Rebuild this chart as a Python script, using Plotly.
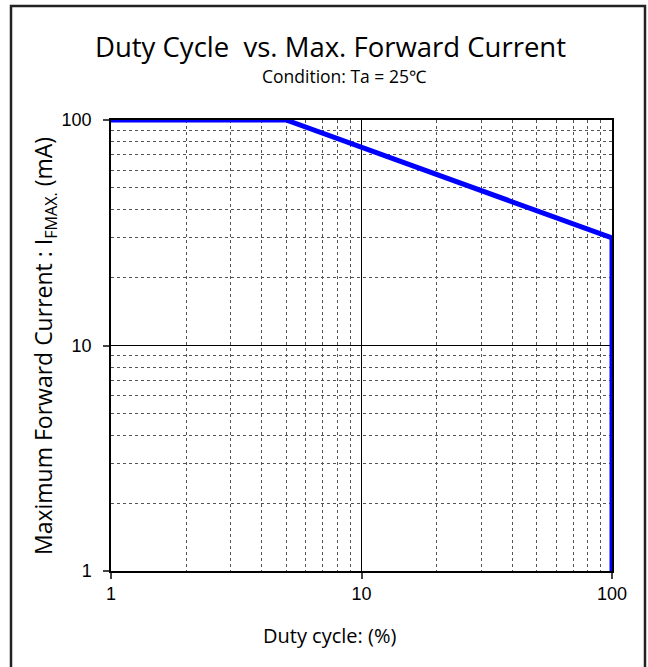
import plotly.graph_objects as go

# Data
duty_cycle = [1, 5, 100, 100]
max_current = [100, 100, 30, 1]
x_ticks = [1, 10, 100]
y_ticks = [1, 10, 100]
minor_vals = [2, 3, 4, 5, 6, 7, 8, 9, 20, 30, 40, 50, 60, 70, 80, 90]

# page geometry (page pixels)
W, H = 648, 667
L, R, T, B = 111, 36, 120, 96
pw = W - L - R
ph = H - T - B


def px_x(px):
    return (px - L) / pw


def px_y(py):
    return (H - B - py) / ph


fig = go.Figure()
fig.add_trace(go.Scatter(
    x=duty_cycle, y=max_current, mode="lines",
    line=dict(color="#0000FF", width=5),
    hoverinfo="skip", showlegend=False,
))

axis_common = dict(
    type="log",
    showline=True, linecolor="black", linewidth=1.5, mirror=True,
    ticks="outside", ticklen=6, tickcolor="#444", tickwidth=1.5,
    showgrid=True, gridcolor="black", gridwidth=1,
    zeroline=False,
    tickfont=dict(family="Liberation Sans, Arial", size=18, color="black"),
    minor=dict(tickmode="array", tickvals=minor_vals, showgrid=True,
               gridcolor="#555555", griddash="dot", gridwidth=1, ticks=""),
)

fig.update_xaxes(range=[0, 2], tickmode="array", tickvals=x_ticks,
                 ticktext=[str(v) for v in x_ticks], **axis_common)
fig.update_yaxes(range=[0, 2], tickmode="array", tickvals=y_ticks,
                 ticktext=[str(v) for v in y_ticks], ticklabelstandoff=8,
                 **axis_common)

title_font = "Open Sans, Noto Sans, sans-serif"
fig.update_layout(
    width=W, height=H,
    margin=dict(l=L, r=R, t=T, b=B),
    paper_bgcolor="white", plot_bgcolor="white",
    hovermode=False,
    annotations=[
        dict(text="Duty Cycle  vs. Max. Forward Current", xref="paper", yref="paper",
             x=px_x(330), y=px_y(46), xanchor="center", yanchor="middle",
             showarrow=False, font=dict(family=title_font, size=27.5, color="black")),
        dict(text="Condition: Ta = 25℃", xref="paper", yref="paper",
             x=px_x(344), y=px_y(76), xanchor="center", yanchor="middle",
             showarrow=False, font=dict(family=title_font, size=17.5, color="black")),
        dict(text="Duty cycle: (%)", xref="paper", yref="paper",
             x=px_x(329), y=px_y(635), xanchor="center", yanchor="middle",
             showarrow=False, font=dict(family=title_font, size=20, color="black")),
        dict(text="Maximum Forward Current : I<sub>FMAX.</sub> (mA)", xref="paper", yref="paper",
             x=px_x(44), y=px_y(346), xanchor="center", yanchor="middle", textangle=-90,
             showarrow=False, font=dict(family=title_font, size=23, color="black")),
    ],
    shapes=[
        dict(type="rect", xref="paper", yref="paper",
             x0=px_x(11), x1=px_x(645), y0=px_y(690), y1=px_y(6),
             line=dict(color="#222", width=2.5), layer="below"),
    ],
)

fig.write_html("out.html", config={"displayModeBar": False},
               post_script="document.body.style.margin='0';")
